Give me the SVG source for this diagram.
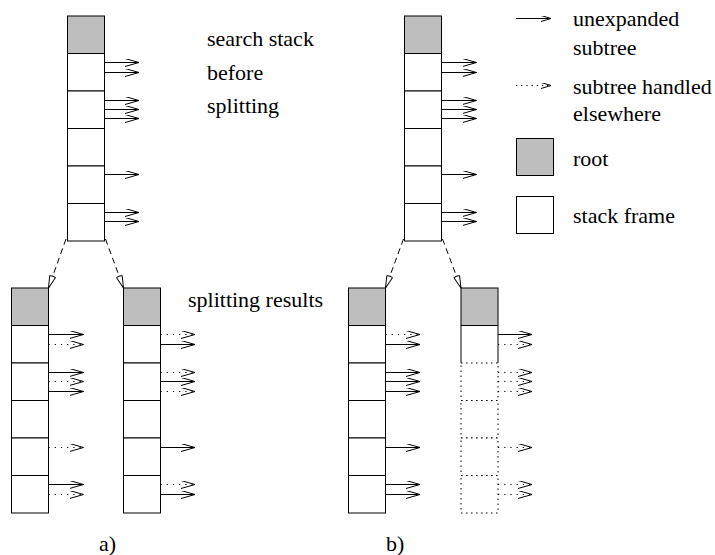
<svg xmlns="http://www.w3.org/2000/svg" width="715" height="555" viewBox="0 0 715 555" font-family="'Liberation Serif', 'DejaVu Serif', serif">
<style>
text{font-family:'Liberation Serif','DejaVu Serif',serif;font-size:22px;fill:#000}
.fr{fill:#fff;stroke:#000;stroke-width:1}
.rt{fill:#bebebe;stroke:#000;stroke-width:1}
.df{fill:#fff;stroke:#000;stroke-width:1;stroke-dasharray:1.5 3.5}
.s{stroke:#000;stroke-width:1;fill:none;marker-end:url(#ah)}
.d{stroke:#000;stroke-width:1;fill:none;stroke-dasharray:1.2 5;marker-end:url(#ah)}
.cn{stroke:#000;stroke-width:1;fill:none;stroke-dasharray:6 4;marker-end:url(#tri)}
</style>
<defs>
<marker id="ah" markerUnits="userSpaceOnUse" viewBox="0 0 16 10" markerWidth="16" markerHeight="10" refX="14" refY="4" orient="auto">
<path d="M0,0 L14,4 L0,8" fill="none" stroke="#000" stroke-width="1"/>
</marker>
<marker id="ahs" markerUnits="userSpaceOnUse" viewBox="0 0 12 8" markerWidth="12" markerHeight="8" refX="10" refY="3" orient="auto">
<path d="M0,0 L10,3 L0,6" fill="none" stroke="#000" stroke-width="1"/>
</marker>
<marker id="tri" markerUnits="userSpaceOnUse" viewBox="-2 -1 16 10" markerWidth="16" markerHeight="10" refX="12" refY="3.5" orient="auto">
<path d="M0,0.5 Q-1.5,3.5 0,6.5 L12,3.5 Z" fill="#fff" stroke="#000" stroke-width="1" stroke-linejoin="round"/>
</marker>
</defs>

<g id="connectors">
<line class="cn" x1="66" y1="239" x2="48.5" y2="288"/>
<line class="cn" x1="105.5" y1="239" x2="123.5" y2="288"/>
<line class="cn" x1="403.5" y1="239" x2="385.5" y2="288"/>
<line class="cn" x1="442.5" y1="239" x2="461" y2="288"/>
</g>

<g id="stack-top-a">
<rect class="rt" x="67.5" y="16" width="37" height="37.5"/>
<rect class="fr" x="67.5" y="53.5" width="37" height="37.5"/>
<rect class="fr" x="67.5" y="91" width="37" height="37.5"/>
<rect class="fr" x="67.5" y="128.5" width="37" height="37.5"/>
<rect class="fr" x="67.5" y="166" width="37" height="37.5"/>
<rect class="fr" x="67.5" y="203.5" width="37" height="37.5"/>
<line class="s" x1="104.5" y1="62.5" x2="139" y2="62.5"/>
<line class="s" x1="104.5" y1="72.5" x2="139" y2="72.5"/>
<line class="s" x1="104.5" y1="100.5" x2="139" y2="100.5"/>
<line class="s" x1="104.5" y1="109.5" x2="139" y2="109.5"/>
<line class="s" x1="104.5" y1="118.5" x2="139" y2="118.5"/>
<line class="s" x1="104.5" y1="174.5" x2="139" y2="174.5"/>
<line class="s" x1="104.5" y1="212.5" x2="139" y2="212.5"/>
<line class="s" x1="104.5" y1="221.5" x2="139" y2="221.5"/>
</g>

<g id="stack-top-b">
<rect class="rt" x="404.5" y="16" width="37" height="37.5"/>
<rect class="fr" x="404.5" y="53.5" width="37" height="37.5"/>
<rect class="fr" x="404.5" y="91" width="37" height="37.5"/>
<rect class="fr" x="404.5" y="128.5" width="37" height="37.5"/>
<rect class="fr" x="404.5" y="166" width="37" height="37.5"/>
<rect class="fr" x="404.5" y="203.5" width="37" height="37.5"/>
<line class="s" x1="441.5" y1="62.5" x2="476.5" y2="62.5"/>
<line class="s" x1="441.5" y1="72.5" x2="476.5" y2="72.5"/>
<line class="s" x1="441.5" y1="100.5" x2="476.5" y2="100.5"/>
<line class="s" x1="441.5" y1="109.5" x2="476.5" y2="109.5"/>
<line class="s" x1="441.5" y1="118.5" x2="476.5" y2="118.5"/>
<line class="s" x1="441.5" y1="174.5" x2="476.5" y2="174.5"/>
<line class="s" x1="441.5" y1="212.5" x2="476.5" y2="212.5"/>
<line class="s" x1="441.5" y1="221.5" x2="476.5" y2="221.5"/>
</g>

<g id="stack-a-left">
<rect class="rt" x="11.5" y="288" width="37" height="37.5"/>
<rect class="fr" x="11.5" y="325.5" width="37" height="37.5"/>
<rect class="fr" x="11.5" y="363" width="37" height="37.5"/>
<rect class="fr" x="11.5" y="400.5" width="37" height="37.5"/>
<rect class="fr" x="11.5" y="438" width="37" height="37.5"/>
<rect class="fr" x="11.5" y="475.5" width="37" height="37.5"/>
<line class="s" x1="48.5" y1="334.5" x2="83.5" y2="334.5"/>
<line class="d" x1="48.5" y1="344.5" x2="83.5" y2="344.5"/>
<line class="s" x1="48.5" y1="372.5" x2="83.5" y2="372.5"/>
<line class="d" x1="48.5" y1="381.5" x2="83.5" y2="381.5"/>
<line class="s" x1="48.5" y1="391.5" x2="83.5" y2="391.5"/>
<line class="d" x1="48.5" y1="447.5" x2="83.5" y2="447.5"/>
<line class="s" x1="48.5" y1="484.5" x2="83.5" y2="484.5"/>
<line class="d" x1="48.5" y1="494.5" x2="83.5" y2="494.5"/>
</g>

<g id="stack-a-right">
<rect class="rt" x="123.5" y="288" width="37" height="37.5"/>
<rect class="fr" x="123.5" y="325.5" width="37" height="37.5"/>
<rect class="fr" x="123.5" y="363" width="37" height="37.5"/>
<rect class="fr" x="123.5" y="400.5" width="37" height="37.5"/>
<rect class="fr" x="123.5" y="438" width="37" height="37.5"/>
<rect class="fr" x="123.5" y="475.5" width="37" height="37.5"/>
<line class="d" x1="160.5" y1="334.5" x2="195" y2="334.5"/>
<line class="s" x1="160.5" y1="344.5" x2="195" y2="344.5"/>
<line class="d" x1="160.5" y1="372.5" x2="195" y2="372.5"/>
<line class="s" x1="160.5" y1="381.5" x2="195" y2="381.5"/>
<line class="d" x1="160.5" y1="391.5" x2="195" y2="391.5"/>
<line class="s" x1="160.5" y1="447.5" x2="195" y2="447.5"/>
<line class="d" x1="160.5" y1="484.5" x2="195" y2="484.5"/>
<line class="s" x1="160.5" y1="494.5" x2="195" y2="494.5"/>
</g>

<g id="stack-b-left">
<rect class="rt" x="348.5" y="288" width="37" height="37.5"/>
<rect class="fr" x="348.5" y="325.5" width="37" height="37.5"/>
<rect class="fr" x="348.5" y="363" width="37" height="37.5"/>
<rect class="fr" x="348.5" y="400.5" width="37" height="37.5"/>
<rect class="fr" x="348.5" y="438" width="37" height="37.5"/>
<rect class="fr" x="348.5" y="475.5" width="37" height="37.5"/>
<line class="d" x1="385.5" y1="334.5" x2="420" y2="334.5"/>
<line class="s" x1="385.5" y1="344.5" x2="420" y2="344.5"/>
<line class="s" x1="385.5" y1="372.5" x2="420" y2="372.5"/>
<line class="s" x1="385.5" y1="381.5" x2="420" y2="381.5"/>
<line class="s" x1="385.5" y1="391.5" x2="420" y2="391.5"/>
<line class="s" x1="385.5" y1="447.5" x2="420" y2="447.5"/>
<line class="s" x1="385.5" y1="484.5" x2="420" y2="484.5"/>
<line class="s" x1="385.5" y1="494.5" x2="420" y2="494.5"/>
</g>

<g id="stack-b-right">
<rect class="rt" x="461" y="288" width="37" height="37.5"/>
<path d="M461,363 V325.5 H498 V363" fill="#fff" stroke="#000" stroke-width="1"/>
<rect class="df" x="461" y="363" width="37" height="37.5"/>
<rect class="df" x="461" y="400.5" width="37" height="37.5"/>
<rect class="df" x="461" y="438" width="37" height="37.5"/>
<rect class="df" x="461" y="475.5" width="37" height="37.5"/>
<line class="s" x1="498" y1="334.5" x2="532" y2="334.5"/>
<line class="d" x1="498" y1="344.5" x2="532" y2="344.5"/>
<line class="d" x1="498" y1="372.5" x2="532" y2="372.5"/>
<line class="d" x1="498" y1="381.5" x2="532" y2="381.5"/>
<line class="d" x1="498" y1="391.5" x2="532" y2="391.5"/>
<line class="d" x1="498" y1="447.5" x2="532" y2="447.5"/>
<line class="d" x1="498" y1="484.5" x2="532" y2="484.5"/>
<line class="d" x1="498" y1="494.5" x2="532" y2="494.5"/>
</g>

<g id="labels">
<text x="207" y="46">search stack</text>
<text x="207" y="80">before</text>
<text x="207" y="113">splitting</text>
<text x="188" y="307">splitting results</text>
<text x="99" y="551">a)</text>
<text x="386" y="551">b)</text>
</g>

<g id="legend">
<line x1="516" y1="18.5" x2="551" y2="18.5" stroke="#000" stroke-width="1" marker-end="url(#ahs)"/>
<text x="573" y="26">unexpanded</text>
<text x="573" y="55">subtree</text>
<line x1="516" y1="85.5" x2="551" y2="85.5" stroke="#000" stroke-width="1" stroke-dasharray="1.2 4" marker-end="url(#ahs)"/>
<text x="573" y="94">subtree handled</text>
<text x="573" y="121">elsewhere</text>
<rect class="rt" x="516.5" y="138.5" width="37" height="37"/>
<text x="573" y="166">root</text>
<rect class="fr" x="516.5" y="196.5" width="37" height="37"/>
<text x="573" y="223">stack frame</text>
</g>
</svg>
